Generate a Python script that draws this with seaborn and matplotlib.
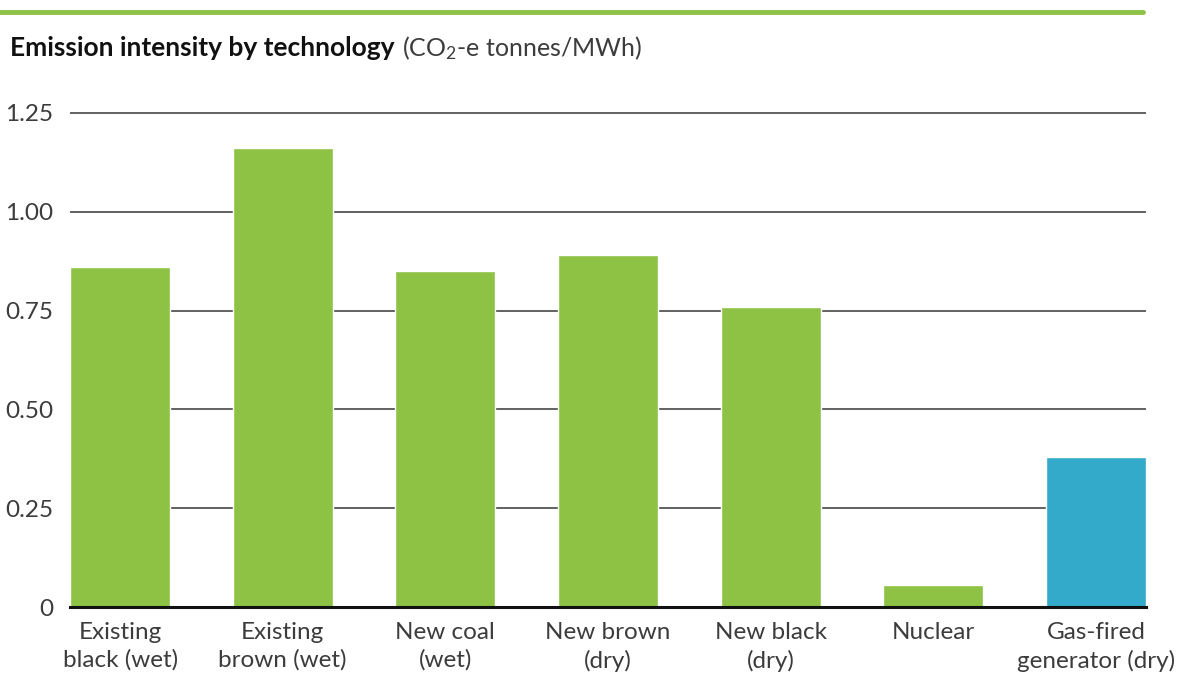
import matplotlib
matplotlib.use("Agg")
import matplotlib.pyplot as plt
import seaborn as sns
import pandas as pd
from matplotlib.lines import Line2D

# chart data
technologies = [
    "Existing\nblack (wet)",
    "Existing\nbrown (wet)",
    "New coal\n(wet)",
    "New brown\n(dry)",
    "New black\n(dry)",
    "Nuclear",
    "Gas-fired\ngenerator (dry)",
]
intensity = [0.86, 1.16, 0.85, 0.89, 0.76, 0.056, 0.38]
bar_colors = ["#8dc244", "#8dc244", "#8dc244", "#8dc244", "#8dc244", "#8dc244", "#33aac9"]
y_ticks = [0, 0.25, 0.50, 0.75, 1.00, 1.25]
y_labels = ["0", "0.25", "0.50", "0.75", "1.00", "1.25"]

df = pd.DataFrame({"tech": technologies, "value": intensity})

sns.set_style("white")
plt.rcParams["font.family"] = ["Lato", "DejaVu Sans"]
plt.rcParams["mathtext.fontset"] = "custom"
plt.rcParams["mathtext.rm"] = "Lato"
plt.rcParams["mathtext.it"] = "Lato:italic"
plt.rcParams["mathtext.bf"] = "Lato:bold"
text_color = "#3c3c3c"

fig = plt.figure(figsize=(11.87, 6.8), dpi=100)
ax = fig.add_axes([70 / 1187, 1 - 607 / 680, (1146 - 70) / 1187, (607 - 105) / 680])

sns.barplot(data=df, x="tech", y="value", hue="tech", palette=bar_colors,
            width=0.615, legend=False, saturation=1, ax=ax, zorder=3)

ax.set_xlim(-0.308, 6.308)
ax.set_ylim(0, 1.27)
ax.set_yticks(y_ticks)
ax.set_yticklabels(y_labels)
ax.set_xlabel("")
ax.set_ylabel("")
ax.yaxis.grid(True, color="#555555", linewidth=1.3, zorder=0)
ax.set_axisbelow(True)
for s in ["top", "right", "left"]:
    ax.spines[s].set_visible(False)
ax.spines["bottom"].set_color("#111111")
ax.spines["bottom"].set_linewidth(2.2)
ax.spines["bottom"].set_zorder(5)
ax.tick_params(axis="both", length=0, labelsize=17.5, colors=text_color)
ax.tick_params(axis="y", pad=12)
ax.tick_params(axis="x", pad=11)
for lab in ax.get_xticklabels():
    lab.set_linespacing(1.35)

# top green rule
fig.add_artist(Line2D([0, 1143 / 1187], [1 - 12 / 680, 1 - 12 / 680],
                      color="#8dc244", linewidth=3.5, transform=fig.transFigure))

# title: bold part followed by regular unit part
t1 = fig.text(10 / 1187, 1 - 56 / 680, "Emission intensity by technology",
              fontsize=19, fontweight="bold", color="#111111", va="baseline")
fig.canvas.draw()
bb = t1.get_window_extent()
x_next = (bb.x1 + 7) / fig.bbox.width
fig.text(x_next, 1 - 56 / 680, r"(CO$_\mathregular{2}$-e tonnes/MWh)",
         fontsize=18, color=text_color, va="baseline")

fig.savefig("out.png", dpi=100)
